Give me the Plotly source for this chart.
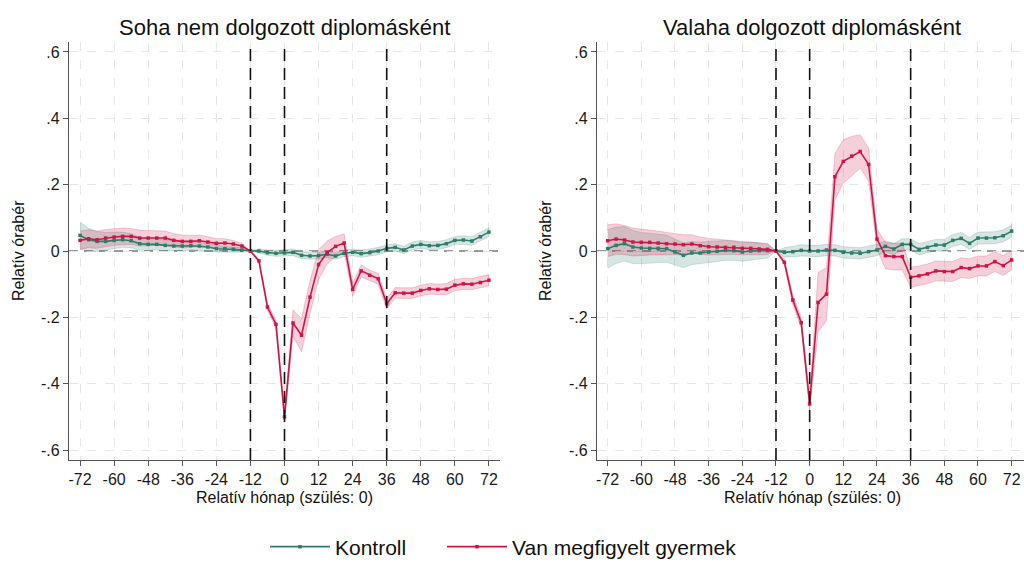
import plotly.graph_objects as go

months = list(range(-72, 73, 3))

# Left panel: "Soha nem dolgozott diplomásként"
left_kontroll = [0.047, 0.034, 0.029, 0.029, 0.032, 0.034, 0.031, 0.022, 0.020, 0.020, 0.017,
                 0.015, 0.015, 0.016, 0.015, 0.012, 0.007, 0.007, 0.005, 0.003, 0.000,
                 0.000, -0.005, -0.007, -0.006, -0.004, -0.013, -0.015, -0.014, -0.010, -0.015,
                 -0.007, -0.004, -0.008, -0.005, 0.000, 0.008, 0.011, 0.003, 0.015, 0.020,
                 0.016, 0.017, 0.022, 0.032, 0.033, 0.030, 0.043, 0.057]
left_kontroll_ci = [0.040, 0.035, 0.030, 0.027, 0.025, 0.023, 0.021, 0.020, 0.018, 0.017, 0.016,
                    0.015, 0.014, 0.013, 0.012, 0.011, 0.010, 0.009, 0.008, 0.007, 0.000,
                    0.007, 0.008, 0.009, 0.009, 0.010, 0.010, 0.010, 0.010, 0.010, 0.010,
                    0.010, 0.010, 0.011, 0.011, 0.011, 0.011, 0.011, 0.011, 0.012, 0.012,
                    0.012, 0.012, 0.012, 0.012, 0.013, 0.013, 0.013, 0.013]
left_gyermek = [0.032, 0.037, 0.034, 0.039, 0.042, 0.044, 0.044, 0.039, 0.039, 0.039, 0.039,
                0.032, 0.029, 0.029, 0.031, 0.027, 0.023, 0.024, 0.021, 0.015, 0.000,
                -0.030, -0.169, -0.221, -0.500, -0.217, -0.254, -0.139, -0.041, -0.005, 0.014,
                0.024, -0.116, -0.060, -0.073, -0.084, -0.159, -0.126, -0.127, -0.127, -0.119,
                -0.114, -0.116, -0.115, -0.103, -0.099, -0.100, -0.095, -0.088]
left_gyermek_ci = [0.028, 0.027, 0.026, 0.026, 0.025, 0.025, 0.024, 0.024, 0.023, 0.022, 0.021,
                   0.020, 0.019, 0.018, 0.017, 0.016, 0.015, 0.013, 0.011, 0.008, 0.000,
                   0.006, 0.010, 0.012, 0.015, 0.040, 0.050, 0.050, 0.045, 0.035, 0.030,
                   0.028, 0.020, 0.018, 0.016, 0.016, 0.016, 0.016, 0.016, 0.016, 0.016,
                   0.016, 0.016, 0.017, 0.017, 0.017, 0.017, 0.017, 0.017]

# Right panel: "Valaha dolgozott diplomásként"
right_kontroll = [0.007, 0.017, 0.022, 0.012, 0.009, 0.008, 0.008, 0.007, -0.003, -0.013, -0.006,
                  -0.006, -0.003, -0.001, 0.002, 0.001, -0.003, 0.000, 0.001, 0.001, 0.000,
                  -0.004, -0.002, 0.002, 0.000, 0.000, 0.003, 0.002, -0.004, -0.006, -0.007,
                  -0.002, 0.003, 0.014, 0.006, 0.020, 0.020, 0.005, 0.011, 0.018, 0.018,
                  0.032, 0.038, 0.023, 0.039, 0.039, 0.040, 0.046, 0.060]
right_kontroll_ci = [0.058, 0.055, 0.052, 0.050, 0.047, 0.045, 0.043, 0.041, 0.039, 0.037, 0.035,
                     0.033, 0.032, 0.031, 0.030, 0.029, 0.028, 0.027, 0.025, 0.022, 0.000,
                     0.014, 0.016, 0.017, 0.017, 0.017, 0.017, 0.017, 0.017, 0.017, 0.017,
                     0.017, 0.017, 0.017, 0.017, 0.017, 0.017, 0.017, 0.017, 0.017, 0.017,
                     0.018, 0.018, 0.018, 0.018, 0.018, 0.018, 0.018, 0.018]
right_gyermek = [0.031, 0.036, 0.033, 0.027, 0.026, 0.026, 0.024, 0.022, 0.021, 0.019, 0.021,
                 0.016, 0.013, 0.012, 0.011, 0.011, 0.008, 0.008, 0.006, 0.005, 0.000,
                 -0.034, -0.148, -0.216, -0.461, -0.155, -0.130, 0.224, 0.270, 0.286, 0.300,
                 0.261, 0.036, -0.014, -0.017, -0.017, -0.079, -0.075, -0.069, -0.060, -0.062,
                 -0.062, -0.050, -0.053, -0.045, -0.045, -0.032, -0.044, -0.027]
right_gyermek_ci = [0.048, 0.046, 0.044, 0.042, 0.040, 0.038, 0.036, 0.034, 0.032, 0.030, 0.028,
                    0.026, 0.025, 0.024, 0.022, 0.021, 0.020, 0.019, 0.018, 0.015, 0.000,
                    0.010, 0.015, 0.015, 0.020, 0.090, 0.080, 0.070, 0.065, 0.060, 0.050,
                    0.050, 0.030, 0.040, 0.040, 0.040, 0.030, 0.030, 0.030, 0.030, 0.030,
                    0.030, 0.030, 0.030, 0.030, 0.030, 0.030, 0.030, 0.030]

panel_titles = ["Soha nem dolgozott diplomásként", "Valaha dolgozott diplomásként"]
series_names = ["Kontroll", "Van megfigyelt gyermek"]
x_ticks = list(range(-72, 73, 12))
x_tick_labels = [str(v) for v in x_ticks]
y_ticks = [0.6, 0.4, 0.2, 0, -0.2, -0.4, -0.6]
y_tick_labels = [".6", ".4", ".2", "0", "-.2", "-.4", "-.6"]
event_lines = [-12, 0, 36]
x_title = "Relatív hónap (szülés: 0)"
y_title = "Relatív órabér"

GREEN = "#2f7c6c"
RED = "#cc1646"
GREEN_FILL = "rgba(47,124,108,0.20)"
RED_FILL = "rgba(204,22,70,0.20)"
GREEN_EDGE = "rgba(47,124,108,0.25)"
RED_EDGE = "rgba(204,22,70,0.25)"
FONT = "Liberation Sans, Arial, sans-serif"

fig = go.Figure()

panels = [
    ("x", "y", left_kontroll, left_kontroll_ci, left_gyermek, left_gyermek_ci),
    ("x2", "y2", right_kontroll, right_kontroll_ci, right_gyermek, right_gyermek_ci),
]

legend_ids = ["legend", "legend2"]

for pi, (xa, ya, kv, kci, gv, gci) in enumerate(panels):
    for vals, ci, fillc, edgec in [(kv, kci, GREEN_FILL, GREEN_EDGE), (gv, gci, RED_FILL, RED_EDGE)]:
        upper = [v + c for v, c in zip(vals, ci)]
        lower = [v - c for v, c in zip(vals, ci)]
        fig.add_trace(go.Scatter(
            x=months + months[::-1], y=upper + lower[::-1],
            fill="toself", fillcolor=fillc, line=dict(color=edgec, width=0.8),
            mode="lines", showlegend=False, hoverinfo="skip", xaxis=xa, yaxis=ya))
    for si, (vals, col) in enumerate([(kv, GREEN), (gv, RED)]):
        fig.add_trace(go.Scatter(
            x=months, y=vals, mode="lines+markers",
            line=dict(color=col, width=1.6),
            marker=dict(symbol="square", size=3.5, color=col),
            name=series_names[si], showlegend=(pi == 0), legend=legend_ids[si],
            xaxis=xa, yaxis=ya))

shapes = []
for xa, ya in [("x", "y"), ("x2", "y2")]:
    shapes.append(dict(type="line", xref=f"{xa} domain", yref=ya, x0=0, x1=1, y0=0, y1=0,
                       line=dict(color="#7a7a7a", width=1.5, dash="9px,6px"), layer="below"))
    for ev in event_lines:
        shapes.append(dict(type="line", xref=xa, yref=f"{ya} domain", x0=ev, x1=ev, y0=0, y1=1,
                           line=dict(color="#111111", width=1.6, dash="12px,7px"), layer="above"))

W, H = 1024, 564
ML, MR, MT, MB = 0, 0, 42, 104
plot_h = H - MT - MB

def px_x(p):
    return p / W

def px_y(p):
    return (H - MB - p) / plot_h

axis_common = dict(
    showgrid=True, gridcolor="#e6e6e6", griddash="dash", gridwidth=1,
    showline=True, linecolor="#555555", linewidth=1.2,
    ticks="outside", ticklen=5, tickcolor="#555555",
    tickfont=dict(family=FONT, size=16, color="#1a1a1a"),
    zeroline=False, automargin=False,
)

legend_common = dict(orientation="h", xanchor="left", y=px_y(547), yanchor="middle",
                     font=dict(family=FONT, size=21, color="#111111"),
                     bgcolor="rgba(0,0,0,0)", itemwidth=60, tracegroupgap=0)

fig.update_layout(
    width=W, height=H,
    margin=dict(l=ML, r=MR, t=MT, b=MB, autoexpand=False),
    paper_bgcolor="white", plot_bgcolor="white",
    font=dict(family=FONT, color="#111111"),
    shapes=shapes,
    xaxis=dict(domain=[px_x(69), px_x(500)], range=[-75.9, 75.9], tickvals=x_ticks,
               ticktext=x_tick_labels, anchor="y", **axis_common),
    yaxis=dict(domain=[0, 1], range=[-0.63, 0.63], tickvals=y_ticks, ticktext=y_tick_labels,
               anchor="x", **axis_common),
    xaxis2=dict(domain=[px_x(597), 1.0], range=[-75.8, 76.4], tickvals=x_ticks,
                ticktext=x_tick_labels, anchor="y2", **axis_common),
    yaxis2=dict(domain=[0, 1], range=[-0.63, 0.63], tickvals=y_ticks, ticktext=y_tick_labels,
                anchor="x2", **axis_common),
    legend=dict(x=px_x(265), **legend_common),
    legend2=dict(x=px_x(442), **legend_common),
    showlegend=True,
)

annotations = []
for cx, t in zip([284.5, 812], panel_titles):
    annotations.append(dict(text=t, x=px_x(cx), y=px_y(27), xref="paper", yref="paper",
                            showarrow=False, font=dict(family=FONT, size=22, color="#111111"),
                            xanchor="center", yanchor="middle"))
for cx in [284.5, 812]:
    annotations.append(dict(text=x_title, x=px_x(cx), y=px_y(497), xref="paper", yref="paper",
                            showarrow=False, font=dict(family=FONT, size=16, color="#111111"),
                            xanchor="center", yanchor="middle"))
for cx in [18, 545]:
    annotations.append(dict(text=y_title, x=px_x(cx), y=px_y(251), xref="paper", yref="paper",
                            showarrow=False, textangle=-90,
                            font=dict(family=FONT, size=16, color="#111111"),
                            xanchor="center", yanchor="middle"))
fig.update_layout(annotations=annotations)

fig.write_html("out.html", config={"displayModeBar": False},
               post_script="document.body.style.margin='0px';document.body.style.overflow='hidden';")
